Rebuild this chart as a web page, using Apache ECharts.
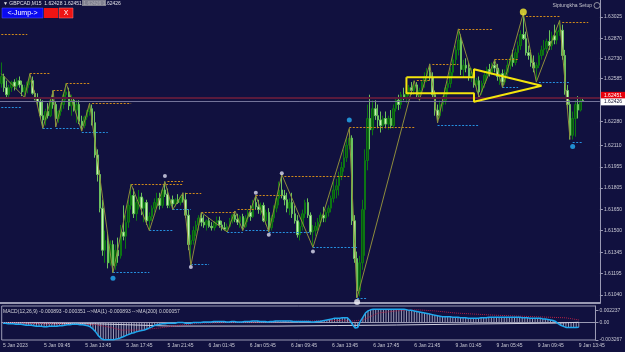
<!DOCTYPE html>
<html>
<head>
<meta charset="utf-8">
<script src="https://cdn.jsdelivr.net/npm/echarts@6/dist/echarts.min.js"></script>
<style>
html, body { margin: 0; padding: 0; background: #11113f; }
#chart { width: 625px; height: 352px; }
</style>
</head>
<body>
<div id="chart"></div>
<script>
// GBPCAD M15, 5 Jan 2023 - 9 Jan 2023
var tickLabels = ['5 Jan 2023', '5 Jan 09:45', '5 Jan 13:45', '5 Jan 17:45', '5 Jan 21:45', '6 Jan 01:45', '6 Jan 05:45',
    '6 Jan 09:45', '6 Jan 13:45', '6 Jan 17:45', '6 Jan 21:45', '9 Jan 01:45', '9 Jan 05:45', '9 Jan 09:45', '9 Jan 13:45'];
var priceTicks = [1.63025, 1.62870, 1.62730, 1.62585, 1.62280, 1.62110, 1.61955, 1.61805, 1.61650, 1.61500, 1.61345, 1.61195, 1.61040];
var macdTicks = [0.002237, 0, -0.003267];
var askPrice = 1.62451;
var bidPrice = 1.62426;

var openP = [1.6255,1.6260,1.6252,1.6247,1.6252,1.6256,1.6253,1.6257,1.6254,1.6249,
1.6252,1.6256,1.6257,1.6248,1.6245,1.6242,1.6232,1.6229,1.6235,1.6232,
1.6243,1.6240,1.6230,1.6235,1.6240,1.6247,1.6249,1.6239,1.6243,1.6236,
1.6240,1.6228,1.6225,1.6231,1.6235,1.6237,1.6227,1.6204,1.6190,1.6166,
1.6136,1.6143,1.6127,1.6140,1.6125,1.6136,1.6132,1.6149,1.6146,1.6156,
1.6168,1.6175,1.6162,1.6170,1.6174,1.6166,1.6170,1.6157,1.6160,1.6166,
1.6170,1.6173,1.6168,1.6179,1.6176,1.6168,1.6172,1.6169,1.6172,1.6170,
1.6174,1.6172,1.6161,1.6140,1.6143,1.6150,1.6154,1.6159,1.6156,1.6154,
1.6157,1.6153,1.6152,1.6156,1.6157,1.6154,1.6152,1.6151,1.6153,1.6157,
1.6161,1.6158,1.6156,1.6160,1.6153,1.6159,1.6163,1.6160,1.6170,1.6167,
1.6165,1.6168,1.6157,1.6163,1.6152,1.6159,1.6166,1.6173,1.6179,1.6175,
1.6172,1.6166,1.6170,1.6162,1.6157,1.6147,1.6153,1.6162,1.6170,1.6161,
1.6149,1.6150,1.6153,1.6156,1.6161,1.6159,1.6163,1.6166,1.6173,1.6179,
1.6182,1.6189,1.6195,1.6202,1.6211,1.6216,1.6157,1.6130,1.6107,1.6127,
1.6165,1.6200,1.6230,1.6222,1.6237,1.6232,1.6229,1.6225,1.6230,1.6226,
1.6230,1.6225,1.6237,1.6243,1.6240,1.6247,1.6245,1.6249,1.6252,1.6250,
1.6254,1.6247,1.6250,1.6256,1.6260,1.6263,1.6259,1.6247,1.6236,1.6232,
1.6240,1.6243,1.6252,1.6255,1.6263,1.6272,1.6279,1.6286,1.6265,1.6268,
1.6266,1.6260,1.6263,1.6254,1.6257,1.6249,1.6255,1.6261,1.6265,1.6263,
1.6268,1.6266,1.6260,1.6262,1.6256,1.6263,1.6268,1.6273,1.6270,1.6277,
1.6282,1.6290,1.6287,1.6277,1.6275,1.6270,1.6266,1.6268,1.6275,1.6279,
1.6280,1.6285,1.6282,1.6289,1.6286,1.6292,1.6293,1.6275,1.6250,1.6240,
1.6218,1.6230,1.6240,1.6236,1.62428];

var highP = [1.6270,1.6262,1.6257,1.6254,1.6257,1.6258,1.6259,1.6260,1.6257,1.6254,
1.6257,1.6262,1.6260,1.6250,1.6248,1.6245,1.6243,1.6237,1.6241,1.6245,
1.6250,1.6242,1.6236,1.6241,1.6249,1.6255,1.6252,1.6247,1.6245,1.6243,
1.6243,1.6232,1.6232,1.6236,1.6241,1.6240,1.6235,1.6208,1.6193,1.6172,
1.6150,1.6149,1.6143,1.6143,1.6140,1.6145,1.6154,1.6168,1.6161,1.6172,
1.6183,1.6180,1.6172,1.6179,1.6177,1.6173,1.6172,1.6163,1.6168,1.6173,
1.6177,1.6177,1.6180,1.6185,1.6180,1.6173,1.6175,1.6173,1.6176,1.6175,
1.6177,1.6177,1.6165,1.6147,1.6153,1.6157,1.6161,1.6163,1.6161,1.6158,
1.6159,1.6156,1.6157,1.6160,1.6160,1.6157,1.6156,1.6155,1.6159,1.6162,
1.6164,1.6162,1.6161,1.6162,1.6161,1.6165,1.6168,1.6172,1.6175,1.6172,
1.6170,1.6170,1.6165,1.6166,1.6161,1.6168,1.6175,1.6185,1.6190,1.6179,
1.6177,1.6173,1.6177,1.6168,1.6161,1.6156,1.6165,1.6172,1.6173,1.6163,
1.6154,1.6156,1.6159,1.6163,1.6167,1.6165,1.6168,1.6175,1.6185,1.6187,
1.6192,1.6199,1.6208,1.6216,1.6223,1.6218,1.6161,1.6135,1.6132,1.6172,
1.6208,1.6240,1.6247,1.6243,1.6243,1.6240,1.6235,1.6232,1.6235,1.6232,
1.6236,1.6240,1.6245,1.6247,1.6249,1.6252,1.6250,1.6254,1.6256,1.6257,
1.6256,1.6252,1.6257,1.6263,1.6266,1.6269,1.6263,1.6250,1.6240,1.6243,
1.6246,1.6254,1.6257,1.6266,1.6275,1.6282,1.6294,1.6290,1.6272,1.6273,
1.6270,1.6266,1.6265,1.6259,1.6260,1.6257,1.6263,1.6267,1.6269,1.6270,
1.6272,1.6269,1.6265,1.6265,1.6265,1.6272,1.6275,1.6279,1.6280,1.6285,
1.6293,1.6305,1.6292,1.6282,1.6279,1.6275,1.6270,1.6277,1.6282,1.6286,
1.6287,1.6293,1.6292,1.6297,1.6295,1.6300,1.6297,1.6279,1.6254,1.6243,
1.6235,1.6243,1.6246,1.6245,1.62451];

var lowP = [1.6252,1.6249,1.6245,1.6245,1.6249,1.6250,1.6251,1.6252,1.6246,1.6245,
1.6248,1.6254,1.6247,1.6243,1.6239,1.6230,1.6223,1.6225,1.6230,1.6231,
1.6237,1.6224,1.6227,1.6232,1.6237,1.6243,1.6236,1.6232,1.6235,1.6227,
1.6226,1.6221,1.6223,1.6229,1.6232,1.6225,1.6202,1.6185,1.6163,1.6132,
1.6127,1.6123,1.6125,1.6120,1.6122,1.6127,1.6130,1.6143,1.6137,1.6152,
1.6165,1.6159,1.6157,1.6165,1.6161,1.6156,1.6154,1.6150,1.6157,1.6163,
1.6166,1.6165,1.6166,1.6174,1.6166,1.6166,1.6165,1.6167,1.6169,1.6168,
1.6170,1.6159,1.6136,1.6125,1.6140,1.6146,1.6150,1.6153,1.6152,1.6150,
1.6152,1.6150,1.6150,1.6153,1.6152,1.6150,1.6150,1.6149,1.6152,1.6155,
1.6156,1.6154,1.6152,1.6150,1.6152,1.6156,1.6157,1.6159,1.6165,1.6162,
1.6161,1.6156,1.6154,1.6149,1.6150,1.6156,1.6163,1.6168,1.6173,1.6168,
1.6163,1.6161,1.6159,1.6155,1.6145,1.6143,1.6150,1.6159,1.6159,1.6147,
1.6138,1.6146,1.6150,1.6153,1.6156,1.6156,1.6160,1.6163,1.6170,1.6173,
1.6175,1.6186,1.6192,1.6199,1.6208,1.6154,1.6127,1.6102,1.6103,1.6122,
1.6132,1.6193,1.6208,1.6218,1.6229,1.6223,1.6220,1.6222,1.6223,1.6222,
1.6223,1.6223,1.6235,1.6236,1.6237,1.6243,1.6241,1.6246,1.6247,1.6247,
1.6245,1.6243,1.6248,1.6252,1.6256,1.6257,1.6245,1.6232,1.6227,1.6230,
1.6235,1.6240,1.6247,1.6252,1.6260,1.6268,1.6275,1.6261,1.6259,1.6263,
1.6257,1.6256,1.6252,1.6249,1.6245,1.6247,1.6252,1.6257,1.6260,1.6261,
1.6263,1.6257,1.6254,1.6252,1.6254,1.6260,1.6265,1.6267,1.6268,1.6273,
1.6279,1.6286,1.6275,1.6272,1.6267,1.6263,1.6256,1.6266,1.6272,1.6275,
1.6277,1.6279,1.6279,1.6283,1.6283,1.6289,1.6272,1.6247,1.6236,1.6215,
1.6215,1.6217,1.6230,1.6235,1.62426];

var closeP = [1.6260,1.6252,1.6247,1.6252,1.6256,1.6253,1.6257,1.6254,1.6249,1.6252,
1.6256,1.6257,1.6248,1.6245,1.6242,1.6232,1.6229,1.6235,1.6232,1.6243,
1.6240,1.6230,1.6235,1.6240,1.6247,1.6249,1.6239,1.6243,1.6236,1.6240,
1.6228,1.6225,1.6231,1.6235,1.6237,1.6227,1.6204,1.6190,1.6166,1.6136,
1.6143,1.6127,1.6140,1.6125,1.6136,1.6132,1.6149,1.6146,1.6156,1.6168,
1.6175,1.6162,1.6170,1.6174,1.6166,1.6170,1.6157,1.6160,1.6166,1.6170,
1.6173,1.6168,1.6179,1.6176,1.6168,1.6172,1.6169,1.6172,1.6170,1.6174,
1.6172,1.6161,1.6140,1.6143,1.6150,1.6154,1.6159,1.6156,1.6154,1.6157,
1.6153,1.6152,1.6156,1.6157,1.6154,1.6152,1.6151,1.6153,1.6157,1.6161,
1.6158,1.6156,1.6160,1.6153,1.6159,1.6163,1.6160,1.6170,1.6167,1.6165,
1.6168,1.6157,1.6163,1.6152,1.6159,1.6166,1.6173,1.6179,1.6175,1.6172,
1.6166,1.6170,1.6162,1.6157,1.6147,1.6153,1.6162,1.6170,1.6161,1.6149,
1.6150,1.6153,1.6156,1.6161,1.6159,1.6163,1.6166,1.6173,1.6179,1.6182,
1.6189,1.6195,1.6202,1.6211,1.6216,1.6157,1.6130,1.6107,1.6127,1.6165,
1.6200,1.6230,1.6222,1.6237,1.6232,1.6229,1.6225,1.6230,1.6226,1.6230,
1.6225,1.6237,1.6243,1.6240,1.6247,1.6245,1.6249,1.6252,1.6250,1.6254,
1.6247,1.6250,1.6256,1.6260,1.6263,1.6259,1.6247,1.6236,1.6232,1.6240,
1.6243,1.6252,1.6255,1.6263,1.6272,1.6279,1.6286,1.6265,1.6268,1.6266,
1.6260,1.6263,1.6254,1.6257,1.6249,1.6255,1.6261,1.6265,1.6263,1.6268,
1.6266,1.6260,1.6262,1.6256,1.6263,1.6268,1.6273,1.6270,1.6277,1.6282,
1.6290,1.6287,1.6277,1.6275,1.6270,1.6266,1.6268,1.6275,1.6279,1.6280,
1.6285,1.6282,1.6289,1.6286,1.6292,1.6293,1.6275,1.6250,1.6240,1.6218,
1.6230,1.6240,1.6236,1.62428,1.62426];

// zigzag pivots [bar, price]
var zigzag = [[0,1.6262],[9,1.6245],[11,1.6262],[16,1.6223],[20,1.6250],[21,1.6224],[25,1.6255],[31,1.6221],
    [34,1.6241],[43,1.6120],[50,1.6183],[57,1.6150],[63,1.6185],[66,1.6165],[70,1.6177],[73,1.6125],[77,1.6163],
    [87,1.6149],[90,1.6164],[93,1.6150],[98,1.6175],[103,1.6149],[108,1.6190],[120,1.6138],[134,1.6223],
    [137,1.6102],[159,1.6257],[161,1.6243],[165,1.6269],[168,1.6227],[176,1.6294],[184,1.6245],[190,1.6272],
    [193,1.6252],[201,1.6305],[206,1.6256],[215,1.6300],[219,1.6215]];

// [from bar, to bar, price]
var highLevels = [[0,10,1.6290],[11,19,1.6262],[20,24,1.6250],[25,34,1.6255],[35,50,1.6241],[50,70,1.6183],
    [64,70,1.6185],[71,77,1.6177],[77,90,1.6163],[91,98,1.6165],[98,108,1.6175],[109,134,1.6189],[134,159,1.6224],
    [160,165,1.6257],[166,176,1.6269],[176,189,1.6294],[190,199,1.6272],[202,215,1.6303],[216,226,1.6299]];
var lowLevels = [[0,8,1.6238],[9,15,1.6245],[16,20,1.6223],[21,30,1.6223],[31,41,1.6220],[43,57,1.6120],
    [57,66,1.6150],[66,73,1.6165],[73,80,1.6126],[87,93,1.6149],[94,103,1.6150],[103,119,1.6149],[120,137,1.6138],
    [137,141,1.6102],[161,168,1.6242],[168,184,1.6225],[184,191,1.6245],[193,199,1.6252],[207,219,1.6256],[220,224,1.6213]];

var whiteDots = [[63,1.6189],[73,1.6124],[98,1.6177],[103,1.6147],[108,1.6191],[120,1.6135]];
var whiteBig = [[137,1.6099]];
var blueDots = [[43,1.6116],[134,1.6229],[220,1.6210]];
var yellowDots = [[201,1.6306]];

// hand drawn arrow
var arrowPath = [[156,1.62594],[182,1.62594],[182,1.62651],[208,1.62534],[182,1.62420],[182,1.62480],[156,1.62480],[156,1.62594]];

var macd = [-0.0001,-0.0001,-0.0002,-0.0002,-0.0002,-0.0003,-0.0003,-0.0003,-0.0004,-0.0005,-0.0005,-0.0005,
-0.0006,-0.0007,-0.0007,-0.0007,-0.0008,-0.0008,-0.0007,-0.0007,-0.0007,-0.0007,-0.0006,-0.0006,-0.0005,
-0.0004,-0.0004,-0.0003,-0.0003,-0.0003,-0.0004,-0.0004,
-0.0005,-0.0006,-0.0008,-0.0012,-0.0017,-0.0024,-0.0029,-0.0032,-0.0032,-0.0032,-0.0032,-0.0032,-0.0031,-0.0030,
-0.0028,-0.0026,-0.0024,-0.0022,-0.0020,-0.0019,-0.0017,-0.0016,-0.0015,-0.0014,-0.0012,-0.0010,-0.0008,-0.0005,
-0.0004,-0.0003,-0.0002,-0.0002,-0.0001,-0.0001,
-0.0001,-0.0001,0,0,0,-0.0001,-0.0001,-0.0001,0,0,
0,0,0.0001,0.0001,0.0001,0.0001,0.0002,0.0002,0.0002,
0.0002,0.0002,0.0001,0.0001,0.0002,0.0002,0.0001,0.0001,0.0001,0.0002,0.0002,0.0002,0.0003,0.0003,0.0003,0.0002,
0.0002,0.0002,0.0001,0.0002,0.0002,0.0003,0.0003,
0.0003,0.0003,0.0003,0.0003,0.0003,0.0002,0.0002,0.0002,0.0002,0.0002,0.0002,0.0002,0.0001,0.0001,0.0002,0.0002,
0.0003,0.0004,
0.0005,0.0006,0.0007,0.0008,0.0008,0.0008,0.0009,0.0009,0.0009,
0.0004,-0.0004,-0.0010,-0.0009,0.0002,0.0010,0.0018,0.0022,0.0024,
0.0025,0.0025,0.0025,0.0025,0.0025,0.0025,0.0025,0.0025,0.0025,0.0025,0.0025,0.0025,0.0025,
0.0024,0.0023,0.0023,0.0022,0.0021,0.0020,0.0019,0.0018,0.0017,0.0016,0.0015,0.0014,0.0013,0.0012,0.0011,0.0011,
0.0011,0.0011,0.0010,0.0010,0.0010,
0.0009,0.0009,0.0009,0.0008,0.0008,0.0008,0.0008,0.0008,0.0009,0.0009,0.0009,
0.0010,0.0010,0.0010,0.0010,0.0010,0.0010,0.0010,0.0010,0.0010,0.0010,0.0010,0.0010,0.0010,
0.0009,0.0009,0.0009,0.0008,0.0008,0.0008,0.0008,0.0008,0.0007,0.0007,0.0006,0.0005,0.0004,0.0002,-0.0002,
-0.0005,-0.0007,-0.0009,-0.0009,-0.0009,-0.0009,-0.0009,-0.000893];

var signalPts = [[0,0],[15,-0.0002],[30,-0.0003],[36,-0.0004],[42,-0.0009],[46,-0.0014],[53,-0.0014],[61,-0.0010],
    [67,-0.0006],[76,-0.0001],[99,0.0001],[130,0.0004],[136,0.0003],[140,0.0005],[146,0.0018],[153,0.0022],
    [161,0.0024],[168,0.0022],[176,0.0018],[191,0.0014],[207,0.0011],[219,0.0009],[224,0.0005]];
var ma200Pts = [[0,0],[38,-0.00025],[65,-0.00065],[107,-0.00065],[130,-0.00055],[153,-0.00045],[184,-0.00025],
    [214,-0.0001],[224,0.000057]];

var SLOTS = 231;
var cats = [];
for (var i = 0; i < SLOTS; i++) cats.push(i);

var candles = openP.map(function (o, i) { return [o, closeP[i], lowP[i], highP[i]]; });
function levelSegs(list) {
    return list.map(function (l) { return { coords: [[l[0], l[2]], [l[1], l[2]]] }; });
}
function showTick(i) { return i % 16 === 0; }

var FONT = 'Liberation Sans';
var txt = { color: '#c8c8d4', fontSize: 5, fontFamily: FONT };
var frame = '#9a9ab4';

var myChart = echarts.init(document.getElementById('chart'));
myChart.setOption({
    backgroundColor: '#11113f',
    animation: false,
    grid: [
        { left: 0, top: 0, width: 602, height: 303 },
        { left: 0, top: 306, width: 602, height: 34, show: true, borderColor: frame, borderWidth: 1 }
    ],
    xAxis: [
        { type: 'category', gridIndex: 0, data: cats, axisLine: { lineStyle: { color: frame, width: 2 } },
          axisTick: { show: false }, axisLabel: { show: false }, splitLine: { show: false } },
        { type: 'category', gridIndex: 1, data: cats, axisLine: { lineStyle: { color: frame } },
          axisTick: { interval: showTick, alignWithLabel: true, length: 2, lineStyle: { color: frame } },
          axisLabel: Object.assign({ interval: showTick, align: 'left', margin: 3,
              formatter: function (v, idx) { return tickLabels[idx / 16] || ''; } }, txt),
          splitLine: { show: false } }
    ],
    yAxis: [
        { type: 'value', gridIndex: 0, position: 'right', min: 1.60983, max: 1.63146,
          axisLine: { show: true, lineStyle: { color: frame } },
          axisTick: { show: true, length: 3, customValues: priceTicks, lineStyle: { color: frame } },
          axisLabel: Object.assign({ customValues: priceTicks, margin: 4,
              formatter: function (v) { return v.toFixed(5); } }, txt),
          splitLine: { show: false } },
        { type: 'value', gridIndex: 1, position: 'right', min: -0.003267, max: 0.00312,
          axisLine: { show: true, lineStyle: { color: frame } },
          axisTick: { show: true, length: 3, customValues: macdTicks, lineStyle: { color: frame } },
          axisLabel: Object.assign({ customValues: macdTicks, margin: 4,
              formatter: function (v) { return v === 0 ? '0.00' : v.toFixed(6); } }, txt),
          splitLine: { show: false } }
    ],
    series: [
        { type: 'candlestick', xAxisIndex: 0, yAxisIndex: 0, data: candles, barWidth: 2,
          itemStyle: { color: '#0a5410', borderColor: '#0c7614', color0: '#c8f2b8', borderColor0: '#6cc25e', borderWidth: 1 } },
        { type: 'line', xAxisIndex: 0, yAxisIndex: 0, data: zigzag, symbol: 'none', z: 3,
          lineStyle: { color: '#8e8c3c', width: 1 },
          markLine: { silent: true, symbol: 'none', animation: false, precision: 5,
              data: [
                  { yAxis: askPrice, lineStyle: { color: '#5a1a3c', width: 2, type: 'solid' },
                    label: { position: 'end', distance: 1, offset: [0, -2], formatter: askPrice.toFixed(5),
                             backgroundColor: '#e8000c', color: '#ffffff', padding: [1, 3], fontSize: 5, fontFamily: FONT } },
                  { yAxis: bidPrice, lineStyle: { color: '#74749a', width: 1, type: 'solid' },
                    label: { position: 'end', distance: 1, offset: [0, 1], formatter: bidPrice.toFixed(5),
                             backgroundColor: '#ffffff', color: '#101030', padding: [1, 3], fontSize: 5, fontFamily: FONT } }
              ] } },
        { type: 'lines', coordinateSystem: 'cartesian2d', xAxisIndex: 0, yAxisIndex: 0, data: levelSegs(highLevels), z: 3,
          lineStyle: { color: '#d08a1a', width: 1, type: [2, 1.5], opacity: 1 } },
        { type: 'lines', coordinateSystem: 'cartesian2d', xAxisIndex: 0, yAxisIndex: 0, data: levelSegs(lowLevels), z: 3,
          lineStyle: { color: '#2590e0', width: 1, type: [2, 1.5], opacity: 1 } },
        { type: 'line', xAxisIndex: 0, yAxisIndex: 0, data: arrowPath, symbol: 'none', z: 5,
          lineStyle: { color: '#f4e40c', width: 2 } },
        { type: 'scatter', xAxisIndex: 0, yAxisIndex: 0, data: whiteDots, symbolSize: 4, z: 6,
          itemStyle: { color: '#dcdcf0' } },
        { type: 'scatter', xAxisIndex: 0, yAxisIndex: 0, data: whiteBig, symbolSize: 6, z: 6,
          itemStyle: { color: '#f0f0f8' } },
        { type: 'scatter', xAxisIndex: 0, yAxisIndex: 0, data: blueDots, symbolSize: 5, z: 6,
          itemStyle: { color: '#26aef8' } },
        { type: 'scatter', xAxisIndex: 0, yAxisIndex: 0, data: yellowDots, symbolSize: 7, z: 6,
          itemStyle: { color: '#f8ee30' } },
        // MACD window
        { type: 'bar', xAxisIndex: 1, yAxisIndex: 1, data: macd, barWidth: 1,
          itemStyle: { color: '#9c9cb6' } },
        { type: 'line', xAxisIndex: 1, yAxisIndex: 1, data: ma200Pts, symbol: 'none',
          lineStyle: { color: '#d0d0e0', width: 1 } },
        { type: 'line', xAxisIndex: 1, yAxisIndex: 1, data: signalPts, symbol: 'none',
          lineStyle: { color: '#b22046', width: 1, type: 'dotted' } },
        { type: 'line', xAxisIndex: 1, yAxisIndex: 1, data: macd, symbol: 'none', z: 4,
          lineStyle: { color: '#1fa8ee', width: 1.5 } }
    ],
    graphic: [
        { type: 'text', x: 3, y: 1, style: { text: '\u25BC GBPCAD,M15  1.62428 1.62451 1.62426 1.62426', fill: '#e0e0e8', font: '5px ' + FONT } },
        { type: 'rect', shape: { x: 82, y: 0, width: 24, height: 6 }, style: { fill: '#9c9ca4', opacity: 0.8 } },
        { type: 'rect', shape: { x: 2, y: 8, width: 41, height: 10 }, style: { fill: '#0a0af0', stroke: '#5a5aff', lineWidth: 0.5 } },
        { type: 'text', x: 22.5, y: 13, style: { text: '<-Jump->', fill: '#ffffff', font: '7px ' + FONT, align: 'center', verticalAlign: 'middle' } },
        { type: 'rect', shape: { x: 44, y: 8, width: 14, height: 10 }, style: { fill: '#ee1414' } },
        { type: 'rect', shape: { x: 59, y: 8, width: 14, height: 10 }, style: { fill: '#ee1414', stroke: '#ff8080', lineWidth: 0.5 } },
        { type: 'text', x: 66, y: 13, style: { text: 'X', fill: '#ffffff', font: '7px ' + FONT, align: 'center', verticalAlign: 'middle' } },
        { type: 'text', x: 592, y: 6, style: { text: 'Siptungkha Setup', fill: '#c4c4cc', font: '5px ' + FONT, align: 'right', verticalAlign: 'middle' } },
        { type: 'circle', shape: { cx: 597, cy: 5.5, r: 3 }, style: { fill: 'none', stroke: '#b0b0b8', lineWidth: 0.8 } },
        { type: 'text', x: 3, y: 312, style: { text: 'MACD(12,26,9) -0.000893 -0.000351 -->MA(1) -0.000893 -->MA(200) 0.000057', fill: '#d0d0d8', font: '5px ' + FONT, verticalAlign: 'middle' } }
    ]
});
</script>
</body>
</html>
